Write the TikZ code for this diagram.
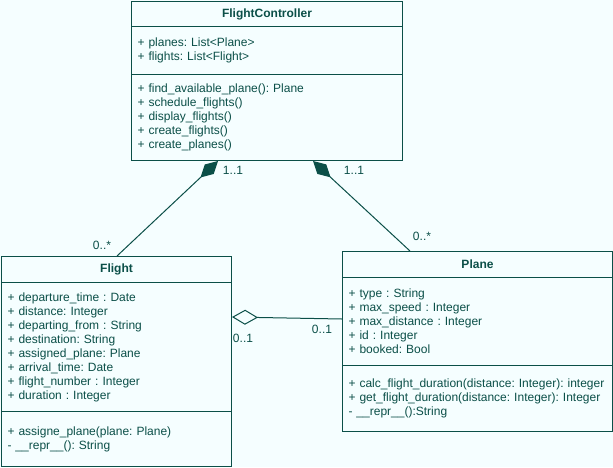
\documentclass[tikz,border=0pt]{standalone}
\usepackage{fontspec}
\setmainfont{Liberation Sans}
\usepackage{tikz}
\usetikzlibrary{arrows.meta}
\definecolor{umlteal}{HTML}{0B4F48}
\definecolor{umlbg}{HTML}{F5FEFF}
\frenchspacing
\tikzset{
classtitle/.style={draw=umlteal,line width=1pt,fill=umlbg,anchor=north west,inner sep=0pt,font=\fontsize{12}{14}\selectfont\bfseries,text=umlteal},
classpart/.style={draw=umlteal,line width=1pt,fill=umlbg,anchor=north west,align=left,inner xsep=6pt,inner ysep=0pt,font=\fontsize{12}{14}\selectfont,text=umlteal},
mult/.style={font=\fontsize{12}{14}\selectfont,text=umlteal,inner sep=0pt},
link/.style={draw=umlteal,line width=1pt}
}
\begin{document}
\begin{tikzpicture}[x=1pt,y=-1pt]
\fill[umlbg] (0,0) rectangle (613,467);
\useasboundingbox (0,0) rectangle (613,467);
\node[classtitle,minimum width=271pt,minimum height=25pt] (fctitle) at (131,1) {FlightController};
\node[classpart,text width=259pt,minimum height=48pt] (fcattr) at (131,26) {+ planes: List<Plane>\\+ flights: List<Flight>};
\node[classpart,text width=259pt,minimum height=86pt] (fcmeth) at (131,74) {+ find\_available\_plane(): Plane\\+ schedule\_flights()\\+ display\_flights()\\+ create\_flights()\\+ create\_planes()};
\node[classtitle,minimum width=230pt,minimum height=26pt] (flttitle) at (1,256) {Flight};
\node[classpart,text width=218pt,minimum height=129pt] (fltattr) at (1,282) {+ departure\_time : Date\\+ distance: Integer\\+ departing\_from : String\\+ destination: String\\+ assigned\_plane: Plane\\+ arrival\_time: Date\\+ flight\_number : Integer\\+ duration : Integer};
\node[classpart,text width=218pt,minimum height=55pt] (fltmeth) at (1,411) {+ assigne\_plane(plane: Plane)\\- \_\_repr\_\_(): String};
\node[classtitle,minimum width=270pt,minimum height=26pt] (pltitle) at (342,251) {Plane};
\node[classpart,text width=258pt,minimum height=88pt] (plattr) at (342,277) {+ type : String\\+ max\_speed : Integer\\+ max\_distance : Integer\\+ id : Integer\\+ booked: Bool};
\node[classpart,text width=258pt,minimum height=66pt] (plmeth) at (342,365) {+ calc\_flight\_duration(distance: Integer): integer\\+ get\_flight\_duration(distance: Integer): Integer\\- \_\_repr\_\_():String};
\draw[link,{Diamond[length=24pt,width=13pt]}-] ([xshift=87pt]fcmeth.south west) -- ([xshift=116pt]flttitle.north west);
\draw[link,{Diamond[length=24pt,width=13pt]}-] ([xshift=182pt]fcmeth.south west) -- ([xshift=68pt]pltitle.north west);
\draw[link,{Diamond[length=26pt,width=15pt,fill=umlbg]}-] ([yshift=-35pt]fltattr.north east) -- ([yshift=-42pt]plattr.north west);
\node[mult] (m1) at (233,170) {1..1};
\node[mult] (m2) at (354,170) {1..1};
\node[mult] (m3) at (102,245) {0..*};
\node[mult] (m4) at (422,236) {0..*};
\node[mult] (m5) at (243,338) {0..1};
\node[mult] (m6) at (322,329) {0..1};
\end{tikzpicture}
\end{document}
